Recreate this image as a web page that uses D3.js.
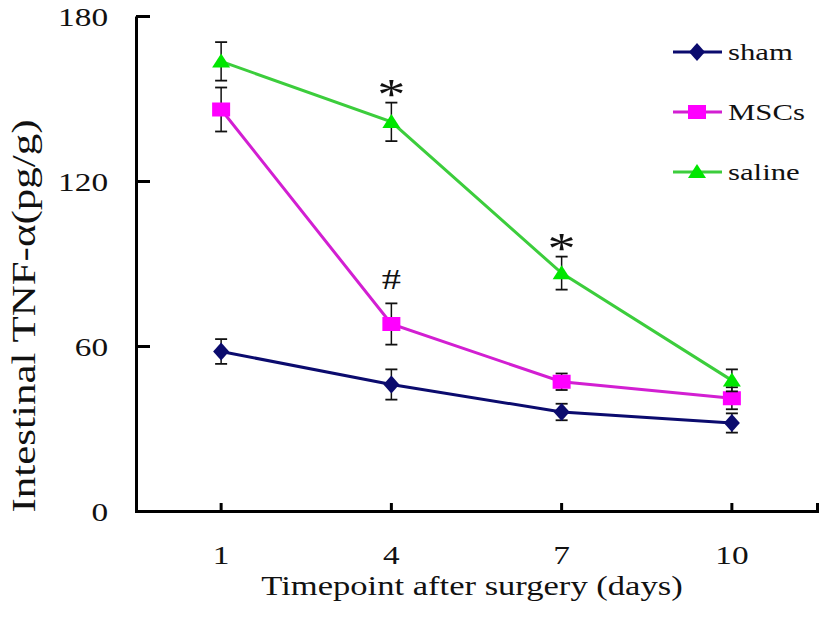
<!DOCTYPE html>
<html>
<head>
<meta charset="utf-8">
<script src="https://cdn.jsdelivr.net/npm/d3@7"></script>
<style>
  body { margin: 0; background: #fff; }
  text { font-family: "Liberation Serif", "Times New Roman", serif; fill: #111; }
</style>
</head>
<body>
<div id="chart"></div>
<script>
// data
var days = ["1", "4", "7", "10"];
var shamMean = [58, 46, 36, 32];
var shamErr = [4.5, 5.5, 3, 3.5];
var mscMean = [146, 68, 47, 41];
var mscErr = [8, 7.5, 3, 4];
var salineMean = [163.5, 141.5, 86.5, 47.5];
var salineErr = [7, 7, 6, 4];
var yTicks = [0, 60, 120, 180];

var w = 820, h = 617;
var stretchX = 1.28; // the figure text is horizontally wide

var svg = d3.select("#chart")
  .append("svg")
  .attr("width", w)
  .attr("height", h);

var x = d3.scaleBand()
  .domain(days)
  .range([136, 817])
  .padding(0);

var y = d3.scaleLinear()
  .domain([0, 180])
  .range([511, 16]);

function cx(d) { return x(d) + x.bandwidth() / 2; }

function stretch(sel) {
  sel.each(function() {
    var len = this.getComputedTextLength();
    d3.select(this)
      .attr("textLength", len * stretchX)
      .attr("lengthAdjust", "spacingAndGlyphs");
  });
}

// axes
var xAxis = svg.append("g")
  .attr("transform", "translate(0," + y(0) + ")")
  .call(d3.axisBottom(x).tickSizeInner(-8).tickSizeOuter(-8).tickPadding(40));

var yAxis = svg.append("g")
  .attr("transform", "translate(136,0)")
  .call(d3.axisLeft(y).tickValues(yTicks).tickSizeInner(-14).tickSizeOuter(0).tickPadding(28));

[xAxis, yAxis].forEach(function(a) {
  a.selectAll("path, line").attr("stroke", "#000").attr("stroke-width", 3);
  a.selectAll("text")
    .style("font-family", "'Liberation Serif', serif")
    .style("font-size", "26px")
    .attr("fill", "#111")
    .call(stretch);
});
xAxis.selectAll("text").attr("dy", "0.5em");
yAxis.selectAll("text").attr("dy", "0.36em");

// axis titles
svg.append("text")
  .attr("x", 472)
  .attr("y", 595)
  .attr("text-anchor", "middle")
  .style("font-size", "27px")
  .text("Timepoint after surgery (days)")
  .call(stretch);

svg.append("text")
  .attr("transform", "translate(35,316) scale(" + stretchX + ",1) rotate(-90)")
  .attr("text-anchor", "middle")
  .attr("textLength", 393)
  .attr("lengthAdjust", "spacingAndGlyphs")
  .style("font-size", "26px")
  .text("Intestinal TNF-\u03b1(pg/g)");

var series = [
  { name: "sham", mean: shamMean, err: shamErr, line: "#0b0b6e", fill: "#0b0b6e", shape: "diamond" },
  { name: "MSCs", mean: mscMean, err: mscErr, line: "#d21fd2", fill: "#ff00ff", shape: "square" },
  { name: "saline", mean: salineMean, err: salineErr, line: "#3ccd3c", fill: "#00e600", shape: "triangle" }
];

function marker(g, s, px, py) {
  if (s.shape === "square") {
    g.append("rect")
      .attr("x", px - 9).attr("y", py - 7)
      .attr("width", 18).attr("height", 14)
      .attr("fill", s.fill);
  } else if (s.shape === "triangle") {
    g.append("path")
      .attr("d", "M" + px + "," + (py - 8) + "L" + (px + 9) + "," + (py + 6) + "L" + (px - 9) + "," + (py + 6) + "Z")
      .attr("fill", s.fill);
  } else {
    g.append("path")
      .attr("d", "M" + px + "," + (py - 9) + "L" + (px + 8) + "," + py + "L" + px + "," + (py + 9) + "L" + (px - 8) + "," + py + "Z")
      .attr("fill", s.fill);
  }
}

var line = d3.line()
  .x(function(d) { return cx(d.day); })
  .y(function(d) { return y(d.v); });

series.forEach(function(s) {
  var pts = days.map(function(d, i) { return { day: d, v: s.mean[i], e: s.err[i] }; });
  var g = svg.append("g");

  // error bars
  pts.forEach(function(p) {
    var px = cx(p.day);
    g.append("line")
      .attr("x1", px).attr("x2", px)
      .attr("y1", y(p.v + p.e)).attr("y2", y(p.v - p.e))
      .attr("stroke", "#111").attr("stroke-width", 1.5);
    [p.v + p.e, p.v - p.e].forEach(function(v) {
      g.append("line")
        .attr("x1", px - 6).attr("x2", px + 6)
        .attr("y1", y(v)).attr("y2", y(v))
        .attr("stroke", "#111").attr("stroke-width", 1.8);
    });
  });

  g.append("path")
    .datum(pts)
    .attr("d", line)
    .attr("fill", "none")
    .attr("stroke", s.line)
    .attr("stroke-width", 3);

  pts.forEach(function(p) { marker(g, s, cx(p.day), y(p.v)); });
});

// significance marks
var marks = [
  { day: "4", v: salineMean[1] + salineErr[1], label: "*" },
  { day: "7", v: salineMean[2] + salineErr[2], label: "*" },
  { day: "4", v: mscMean[1] + mscErr[1], label: "#" }
];
marks.forEach(function(m) {
  svg.append("text")
    .attr("x", cx(m.day))
    .attr("y", y(m.v) - (m.label === "*" ? -6 : 14))
    .attr("text-anchor", "middle")
    .style("font-size", m.label === "*" ? "44px" : "30px")
    .text(m.label)
    .call(stretch);
});

// legend
var legend = svg.append("g");
series.forEach(function(s, i) {
  var ly = 52 + i * 60;
  legend.append("line")
    .attr("x1", 673).attr("x2", 722)
    .attr("y1", ly).attr("y2", ly)
    .attr("stroke", s.line).attr("stroke-width", 3);
  marker(legend, s, 697, ly);
  legend.append("text")
    .attr("x", 728)
    .attr("y", ly + 8)
    .style("font-size", "24px")
    .text(s.name)
    .call(stretch);
});
</script>
</body>
</html>
